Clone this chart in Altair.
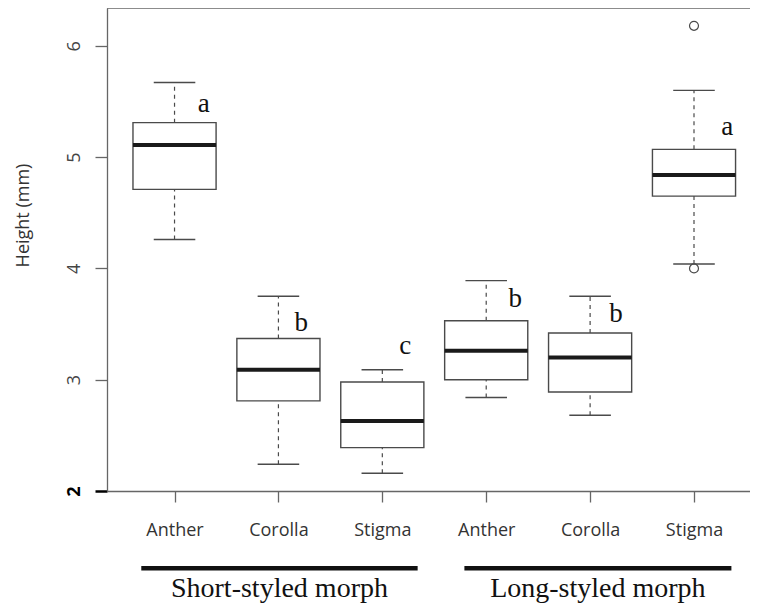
import json
import altair as alt
import pandas as pd

# ---- data ----
organs = ["Anther", "Corolla", "Stigma", "Anther", "Corolla", "Stigma"]
positions = [1, 2, 3, 4, 5, 6]
whisker_low = [4.26, 2.24, 2.16, 2.84, 2.68, 4.04]
q1 = [4.71, 2.81, 2.39, 3.00, 2.89, 4.65]
median = [5.11, 3.09, 2.63, 3.26, 3.20, 4.84]
q3 = [5.31, 3.37, 2.98, 3.53, 3.42, 5.07]
whisker_high = [5.67, 3.75, 3.09, 3.89, 3.75, 5.60]

outlier_pos = [6, 6]
outlier_val = [6.18, 4.00]

letters = ["a", "b", "c", "b", "b", "a"]
letter_x = [1.28, 2.22, 3.22, 4.28, 5.25, 6.32]
letter_y = [5.41, 3.44, 3.23, 3.65, 3.52, 5.20]

morphs = ["Short-styled morph", "Long-styled morph"]
morph_start = [0.68, 3.79]
morph_end = [3.34, 6.36]

y_ticks = [2, 3, 4, 5, 6]

# ---- tables ----
boxes = pd.DataFrame({
    "pos": positions, "organ": organs, "lo": whisker_low, "q1": q1,
    "med": median, "q3": q3, "hi": whisker_high,
})
outs = pd.DataFrame({"pos": outlier_pos, "val": outlier_val})
labs = pd.DataFrame({"x": letter_x, "y": letter_y, "t": letters})
groups = pd.DataFrame({"name": morphs, "s": morph_start, "e": morph_end})

W, H = 643, 483
xscale = alt.Scale(domain=[0.35, 6.539], nice=False, zero=False)
yscale = alt.Scale(domain=[2, 6.34], nice=False, zero=False)

GRAY = "#666666"
BOX = "#4a4a4a"
SANS = "Open Sans"
SERIF = "Liberation Serif"

xaxis = alt.Axis(
    values=positions,
    labelExpr=json.dumps(organs) + "[datum.value - 1]",
    title=None, grid=False, tickSize=11, labelPadding=19,
    labelFont=SANS, labelFontSize=18, labelColor="#333333",
    labelBaseline="top", labelAlign="center", labelAngle=0,
    domainColor=GRAY, tickColor=GRAY, domainWidth=1.3, tickWidth=1.3,
)
yaxis = alt.Axis(
    values=y_ticks, format="d", title="Height (mm)", grid=False,
    tickSize=12, labelPadding=16, labelAngle=270, labelAlign="center",
    labelBaseline="alphabetic", labelFont=SANS, labelFontSize=18,
    labelColor={"condition": {"test": "datum.value == 2", "value": "#000000"}, "value": "#444444"},
    labelFontWeight={"condition": {"test": "datum.value == 2", "value": "bold"}, "value": "normal"},
    tickColor={"condition": {"test": "datum.value == 2", "value": "#000000"}, "value": GRAY},
    tickWidth={"condition": {"test": "datum.value == 2", "value": 2.5}, "value": 1.3},
    domainColor=GRAY, domainWidth=1.3,
    titleFont=SANS, titleFontSize=18, titleFontWeight="normal", titleColor="#333333",
    titleAngle=270, titleAlign="center", titleBaseline="alphabetic",
    titleX=-79, titleY=207,
)

base = alt.Chart(boxes).transform_calculate(
    bl="datum.pos - 0.4", br="datum.pos + 0.4",
    cl="datum.pos - 0.2", cr="datum.pos + 0.2",
)

whisk_hi = base.mark_rule(color=BOX, strokeWidth=1.2, strokeDash=[4, 4]).encode(
    x=alt.X("pos:Q", scale=xscale, axis=xaxis),
    y=alt.Y("q3:Q", scale=yscale, axis=yaxis),
    y2="hi:Q",
)
whisk_lo = base.mark_rule(color=BOX, strokeWidth=1.2, strokeDash=[4, 4]).encode(
    x="pos:Q", y="lo:Q", y2="q1:Q",
)
cap_hi = base.mark_rule(color=BOX, strokeWidth=1.4).encode(
    x="cl:Q", x2="cr:Q", y="hi:Q",
)
cap_lo = base.mark_rule(color=BOX, strokeWidth=1.4).encode(
    x="cl:Q", x2="cr:Q", y="lo:Q",
)
box = base.mark_rect(fill="white", stroke=BOX, strokeWidth=1.4).encode(
    x="bl:Q", x2="br:Q", y="q1:Q", y2="q3:Q",
)
med = base.mark_rule(color="#1a1a1a", strokeWidth=4).encode(
    x="bl:Q", x2="br:Q", y="med:Q",
)
outl = alt.Chart(outs).mark_point(
    shape="circle", filled=False, size=80, color=BOX, strokeWidth=1.2, opacity=1
).encode(x="pos:Q", y="val:Q")

letter_text = alt.Chart(labs).mark_text(
    font=SERIF, fontSize=27, baseline="alphabetic", align="center", color="#111111"
).encode(x="x:Q", y="y:Q", text="t:N")

top_border = alt.Chart(boxes).mark_rule(color=GRAY, strokeWidth=1.3).encode(
    x=alt.value(0), x2=alt.value(W), y=alt.value(0)
).transform_filter("datum.pos == 1")

group_bar = alt.Chart(groups).mark_rule(color="#111111", strokeWidth=4.5).encode(
    x="s:Q", x2="e:Q", y=alt.value(560.3)
)
group_text = alt.Chart(groups).transform_calculate(
    mid="(datum.s + datum.e) / 2"
).mark_text(
    font=SERIF, fontSize=28, baseline="alphabetic", align="center", color="#111111"
).encode(x="mid:Q", y=alt.value(589), text="name:N")

chart = alt.layer(
    whisk_hi, whisk_lo, cap_hi, cap_lo, box, med, outl, letter_text,
    top_border, group_bar, group_text,
).properties(
    width=W, height=H,
    background="white",
    autosize=alt.AutoSizeParams(type="none"),
    padding={"left": 99, "top": 0, "right": 0, "bottom": 112},
).configure_view(stroke=None)

chart.save("out.html", embed_options={"renderer": "svg", "actions": False})
